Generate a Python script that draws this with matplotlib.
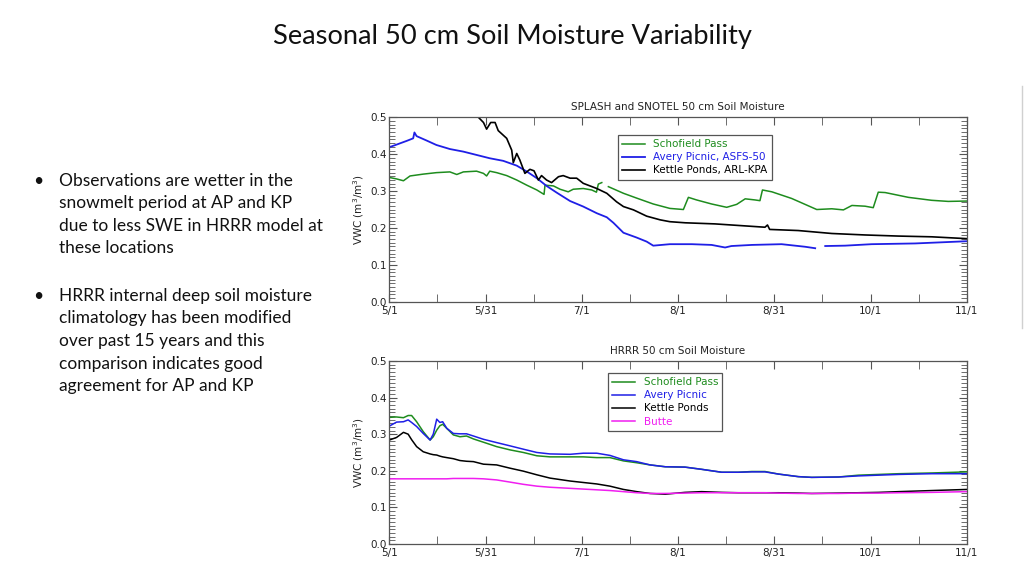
import numpy as np
import matplotlib
matplotlib.use("Agg")
import matplotlib.pyplot as plt
from matplotlib.ticker import MultipleLocator

# -----------------------------
# Data (days since 5/1, VWC in m3/m3)
# -----------------------------
date_labels = ["5/1", "5/31", "7/1", "8/1", "8/31", "10/1", "11/1"]

# SPLASH / SNOTEL observations
obs_sp_day = [0, 2.3, 4.5, 6.6, 10.8, 15, 19.3, 21.5, 23.6, 27.8, 30, 31, 32, 34.2, 37.4,
              40.6, 43.8, 47, 49.3, 49.6, 52.3, 54.4, 57, 58.6, 61.8, 64.5, 66, 66.6, 67.7,
              68.7, 69.8, 74.6, 78.8, 84.1, 89.4, 93.7, 95.3, 97.9, 102.7, 107.5, 110.7,
              113.4, 116.5, 118.1, 118.9, 121.9, 128.2, 136.2, 141, 144.7, 147.4, 151.6,
              154.2, 155.8, 158, 165.4, 172.8, 178.1, 184]
obs_sp_vwc = [0.337, 0.333, 0.328, 0.341, 0.346, 0.350, 0.352, 0.345, 0.352, 0.354, 0.348,
              0.341, 0.354, 0.350, 0.342, 0.330, 0.316, 0.303, 0.291, 0.316, 0.314, 0.305,
              0.298, 0.305, 0.307, 0.303, 0.297, 0.319, 0.323, np.nan, 0.312, 0.294, 0.281,
              0.265, 0.253, 0.250, 0.283, 0.276, 0.265, 0.256, 0.264, 0.279, 0.276, 0.274,
              0.303, 0.298, 0.280, 0.250, 0.252, 0.249, 0.261, 0.259, 0.255, 0.297, 0.296,
              0.283, 0.275, 0.272, 0.273]

obs_ap_day = [0, 2.3, 5.5, 7.6, 8, 8.7, 11.9, 15, 19.3, 23.6, 27.8, 32, 36.3, 40.6, 43.8,
              47, 50.1, 53.3, 57.6, 61.8, 66.1, 69.3, 71.4, 74.6, 78.8, 82, 84.1, 89.4,
              96.4, 102.7, 107, 109, 115.5, 125, 132.5, 135.7, 137.3, 138.9, 145.2, 153.7,
              167.5, 184]
obs_ap_vwc = [0.419, 0.426, 0.436, 0.443, 0.459, 0.449, 0.437, 0.425, 0.414, 0.407, 0.398,
              0.389, 0.382, 0.369, 0.353, 0.335, 0.314, 0.296, 0.273, 0.258, 0.240, 0.229,
              0.214, 0.187, 0.174, 0.163, 0.152, 0.156, 0.156, 0.154, 0.147, 0.151, 0.154,
              0.156, 0.149, 0.145, np.nan, 0.151, 0.152, 0.156, 0.158, 0.164]

obs_kp_day = [27.5, 28.4, 30, 31, 32.3, 33.7, 34.7, 37.4, 39, 39.5, 40.6, 41.6, 43.2, 44.8,
              46.1, 47.5, 48.5, 50.1, 51.7, 53.9, 55.4, 57.6, 59.7, 61.8, 66.1, 69.3, 72.4,
              74.6, 77.8, 82, 86.3, 89.4, 94.3, 103.8, 114.4, 119.7, 120.5, 121.2, 130.3,
              141, 151.6, 162.2, 172.8, 184]
obs_kp_vwc = [0.52, 0.500, 0.486, 0.468, 0.486, 0.486, 0.464, 0.443, 0.411, 0.377, 0.402,
              0.384, 0.348, 0.359, 0.355, 0.330, 0.342, 0.330, 0.323, 0.339, 0.342, 0.335,
              0.335, 0.321, 0.307, 0.294, 0.271, 0.258, 0.249, 0.232, 0.222, 0.217, 0.214,
              0.211, 0.205, 0.202, 0.208, 0.196, 0.193, 0.185, 0.181, 0.178, 0.176, 0.171]

# HRRR model
hrrr_day = [0, 2.3, 4.5, 6, 7.1, 8.7, 10.8, 13, 14, 15.1, 16.1, 17, 18.3, 20.4, 22.5, 24.6,
            26.8, 30, 34.2, 38.5, 42.7, 47, 51.2, 57.6, 61.8, 66.1, 70.3, 74.6, 78.8, 83.1,
            87.9, 94.2, 99.5, 105.9, 111.2, 115.5, 119.7, 124, 130.3, 134.6, 143.1, 149.5,
            155.9, 162.3, 172.9, 184]
hrrr_sp_vwc = [0.346, 0.347, 0.345, 0.351, 0.351, 0.334, 0.307, 0.284, 0.293, 0.311, 0.323,
               0.327, 0.316, 0.298, 0.293, 0.295, 0.287, 0.278, 0.266, 0.257, 0.250, 0.241,
               0.238, 0.238, 0.238, 0.236, 0.236, 0.227, 0.222, 0.216, 0.211, 0.210, 0.204,
               0.196, 0.196, 0.198, 0.198, 0.191, 0.184, 0.182, 0.183, 0.188, 0.190, 0.192,
               0.194, 0.197]
hrrr_ap_vwc = [0.322, 0.333, 0.334, 0.339, 0.332, 0.321, 0.302, 0.284, 0.300, 0.341, 0.332,
               0.334, 0.316, 0.302, 0.301, 0.301, 0.295, 0.286, 0.277, 0.268, 0.259, 0.250,
               0.246, 0.245, 0.248, 0.248, 0.242, 0.230, 0.225, 0.216, 0.211, 0.210, 0.204,
               0.196, 0.196, 0.197, 0.197, 0.191, 0.184, 0.182, 0.183, 0.186, 0.188, 0.190,
               0.192, 0.192]
hrrr_kp_vwc = [0.284, 0.291, 0.305, 0.300, 0.285, 0.266, 0.252, 0.246, 0.244, 0.243, 0.240,
               0.238, 0.236, 0.233, 0.228, 0.226, 0.225, 0.218, 0.216, 0.207, 0.199, 0.189,
               0.180, 0.172, 0.168, 0.164, 0.158, 0.149, 0.143, 0.138, 0.136, 0.141, 0.143,
               0.141, 0.140, 0.140, 0.140, 0.140, 0.139, 0.138, 0.139, 0.140, 0.141, 0.143,
               0.146, 0.149]
hrrr_bu_vwc = [0.178, 0.178, 0.178, 0.178, 0.178, 0.178, 0.178, 0.178, 0.178, 0.178, 0.178,
               0.178, 0.178, 0.179, 0.179, 0.179, 0.179, 0.178, 0.175, 0.169, 0.163, 0.158,
               0.155, 0.152, 0.150, 0.148, 0.146, 0.143, 0.140, 0.138, 0.138, 0.139, 0.140,
               0.140, 0.140, 0.140, 0.140, 0.139, 0.138, 0.138, 0.138, 0.139, 0.139, 0.140,
               0.141, 0.143]

bullet_1 = ("Observations are wetter in the\nsnowmelt period at AP and KP\n"
            "due to less SWE in HRRR model at\nthese locations")
bullet_2 = ("HRRR internal deep soil moisture\nclimatology has been modified\n"
            "over past 15 years and this\ncomparison indicates good\nagreement for AP and KP")

# -----------------------------
# Style
# -----------------------------
green = "#1e8c1e"
blue = "#1f1fe6"
black = "#000000"
magenta = "#f01ef0"
frame = "#555555"
tick_font = 7.5

fig = plt.figure(figsize=(10.24, 5.76), dpi=100)

fig.text(0.5, 0.937, "Seasonal 50 cm Soil Moisture Variability", ha="center", va="center",
         fontsize=19.6, family="Lato", color="#111111")

text_kw = dict(fontsize=12.5, family="Lato", color="#111111", va="top", linespacing=1.5)
fig.text(0.032, 0.700, "\u2022", **text_kw)
fig.text(0.0575, 0.700, bullet_1, **text_kw)
fig.text(0.032, 0.500, "\u2022", **text_kw)
fig.text(0.0575, 0.500, bullet_2, **text_kw)

# faint slide edge line on the right
fig.add_artist(plt.Line2D([0.9985, 0.9985], [0.43, 0.85], color="#d0d0d0", lw=1.0))


def style_axes(ax, title):
    ax.set_xlim(0, 184)
    ax.set_ylim(0, 0.5)
    ax.set_xticks(np.linspace(0, 184, 7))
    ax.set_xticklabels(date_labels)
    ax.set_xticks(np.linspace(0, 184, 13), minor=True)
    ax.yaxis.set_major_locator(MultipleLocator(0.1))
    ax.yaxis.set_minor_locator(MultipleLocator(0.01))
    ax.yaxis.set_major_formatter(matplotlib.ticker.FormatStrFormatter("%.1f"))
    ax.tick_params(which="both", direction="in", top=True, right=True, color=frame,
                   labelsize=tick_font, labelcolor="#222222", pad=2)
    ax.tick_params(axis="x", which="both", length=6, pad=3)
    ax.tick_params(axis="y", which="major", length=6)
    ax.tick_params(axis="y", which="minor", length=4)
    for s in ax.spines.values():
        s.set_color(frame)
        s.set_linewidth(0.9)
    ax.set_title(title, fontsize=7.5, color="#222222", pad=5)
    ax.set_ylabel("VWC (m$^3$/m$^3$)", fontsize=7.5, color="#222222", labelpad=3)


def style_legend(leg, colors):
    leg.get_frame().set_edgecolor("#555555")
    leg.get_frame().set_linewidth(0.9)
    for txt, c in zip(leg.get_texts(), colors):
        txt.set_color(c)


# -----------------------------
# Top: observations
# -----------------------------
ax1 = fig.add_axes([0.3802, 0.4762, 0.5639, 0.3201])
ax1.plot(obs_sp_day, obs_sp_vwc, color=green, lw=1.1, label="Schofield Pass")
ax1.plot(obs_ap_day, obs_ap_vwc, color=blue, lw=1.3, label="Avery Picnic, ASFS-50")
ax1.plot(obs_kp_day, obs_kp_vwc, color=black, lw=1.2, label="Kettle Ponds, ARL-KPA")
style_axes(ax1, "SPLASH and SNOTEL 50 cm Soil Moisture")
leg1 = ax1.legend(loc="upper left", bbox_to_anchor=(0.396, 0.904), fontsize=7.5,
                  fancybox=False, framealpha=1, handlelength=2.2, borderpad=0.4,
                  labelspacing=0.3, borderaxespad=0)
style_legend(leg1, [green, blue, black])

# -----------------------------
# Bottom: HRRR
# -----------------------------
ax2 = fig.add_axes([0.3802, 0.0556, 0.5639, 0.3177])
ax2.plot(hrrr_day, hrrr_sp_vwc, color=green, lw=1.1, label="Schofield Pass")
ax2.plot(hrrr_day, hrrr_ap_vwc, color=blue, lw=1.1, label="Avery Picnic")
ax2.plot(hrrr_day, hrrr_kp_vwc, color=black, lw=1.1, label="Kettle Ponds")
ax2.plot(hrrr_day, hrrr_bu_vwc, color=magenta, lw=1.1, label="Butte")
style_axes(ax2, "HRRR 50 cm Soil Moisture")
leg2 = ax2.legend(loc="upper left", bbox_to_anchor=(0.379, 0.934), fontsize=7.5,
                  fancybox=False, framealpha=1, handlelength=2.2, borderpad=0.4,
                  labelspacing=0.3, borderaxespad=0)
style_legend(leg2, [green, blue, black, magenta])

fig.savefig("out.png", dpi=100)
